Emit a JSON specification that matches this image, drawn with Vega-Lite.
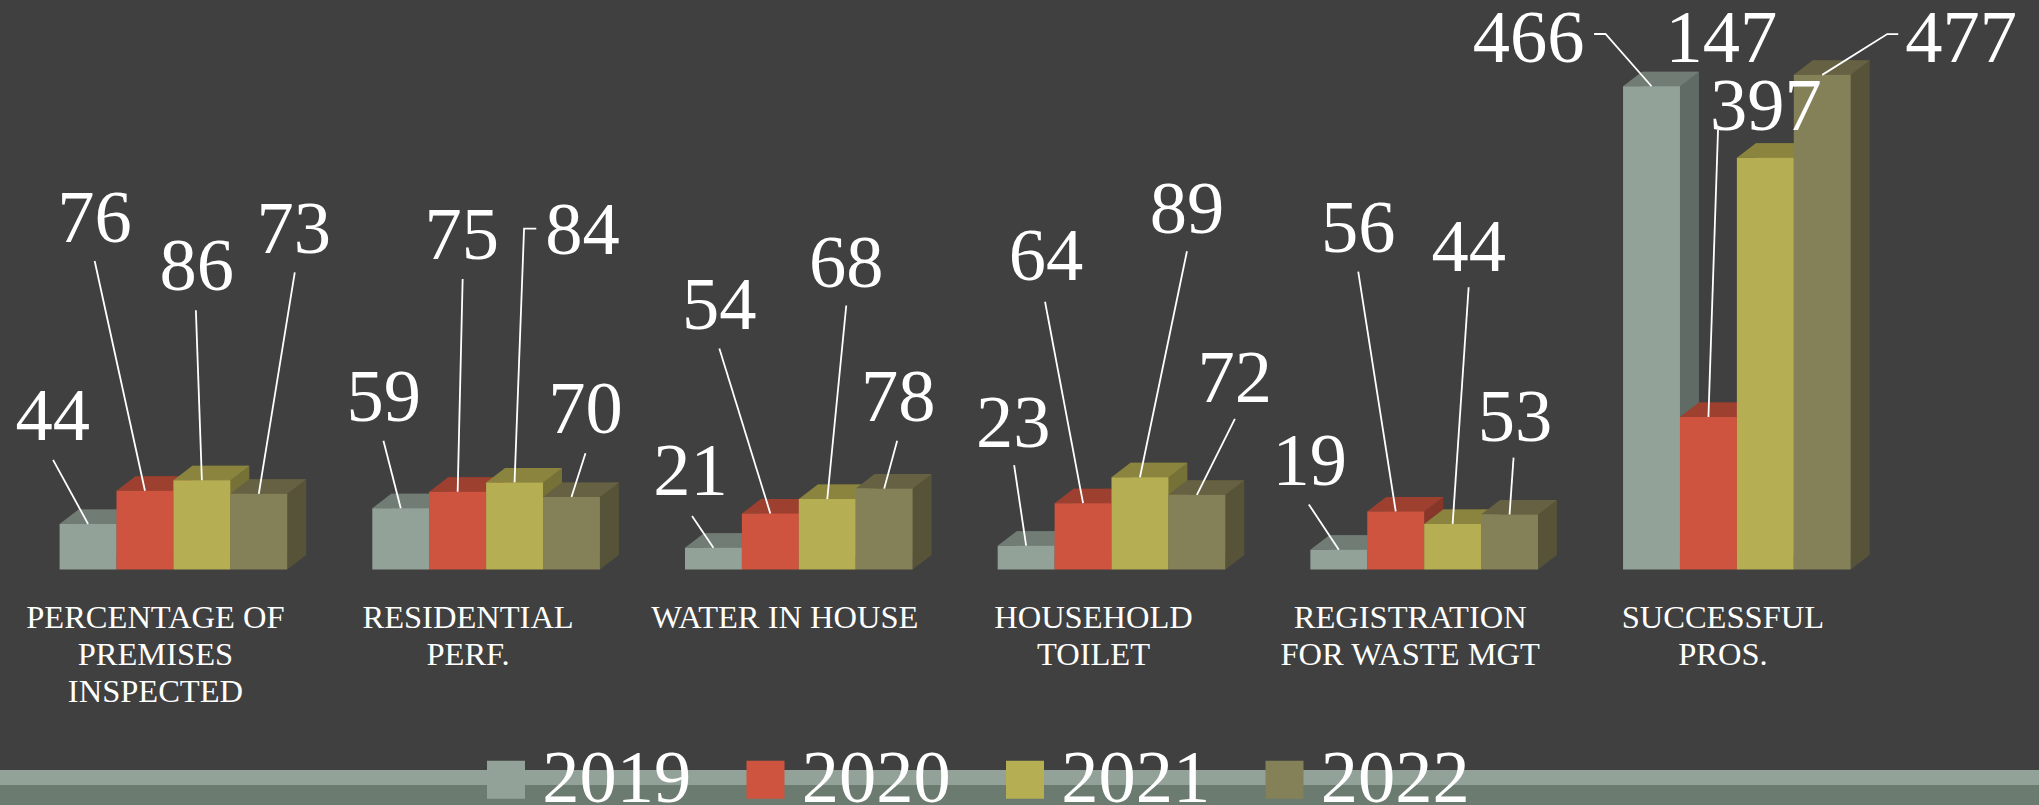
{"$schema":"https://vega.github.io/schema/vega-lite/v6.json","width":2039,"height":805,"padding":0,"autosize":{"type":"none"},"background":"#404040","config":{"view":{"stroke":null},"font":"Liberation Serif","text":{"fontSize":74.5,"color":"#FFFFFF","align":"center","baseline":"alphabetic"},"point":{"size":4,"opacity":1,"strokeWidth":1.8}},
"datasets":{"bars":[
{"category":"PERCENTAGE OF PREMISES INSPECTED","year":2019,"value":44},{"category":"PERCENTAGE OF PREMISES INSPECTED","year":2020,"value":76},{"category":"PERCENTAGE OF PREMISES INSPECTED","year":2021,"value":86},{"category":"PERCENTAGE OF PREMISES INSPECTED","year":2022,"value":73},
{"category":"RESIDENTIAL PERF.","year":2019,"value":59},{"category":"RESIDENTIAL PERF.","year":2020,"value":75},{"category":"RESIDENTIAL PERF.","year":2021,"value":84},{"category":"RESIDENTIAL PERF.","year":2022,"value":70},
{"category":"WATER IN HOUSE","year":2019,"value":21},{"category":"WATER IN HOUSE","year":2020,"value":54},{"category":"WATER IN HOUSE","year":2021,"value":68},{"category":"WATER IN HOUSE","year":2022,"value":78},
{"category":"HOUSEHOLD TOILET","year":2019,"value":23},{"category":"HOUSEHOLD TOILET","year":2020,"value":64},{"category":"HOUSEHOLD TOILET","year":2021,"value":89},{"category":"HOUSEHOLD TOILET","year":2022,"value":72},
{"category":"REGISTRATION FOR WASTE MGT","year":2019,"value":19},{"category":"REGISTRATION FOR WASTE MGT","year":2020,"value":56},{"category":"REGISTRATION FOR WASTE MGT","year":2021,"value":44},{"category":"REGISTRATION FOR WASTE MGT","year":2022,"value":53},
{"category":"SUCCESSFUL PROS.","year":2019,"value":466},{"category":"SUCCESSFUL PROS.","year":2020,"value":147},{"category":"SUCCESSFUL PROS.","year":2021,"value":397},{"category":"SUCCESSFUL PROS.","year":2022,"value":477}
]},
"data":{"name":"bars"},
"resolve":{"scale":{"color":"independent"}},
"layer":[
{"data":{"values":[{"from":-193.3,"to":-207.8}]},"mark":{"type":"rect","color":"#93A299"},"encoding":{"y":{"field":"from","type":"quantitative","axis":null,"scale":{"domain":[-227.1,549.2],"nice":false,"zero":false}},"y2":{"field":"to"}}},
{"data":{"values":[{"from":-207.8,"to":-227.1}]},"mark":{"type":"rect","color":"#6B7B70"},"encoding":{"y":{"field":"from","type":"quantitative","axis":null},"y2":{"field":"to"}}},
{"encoding":{
"x":{"field":"category","type":"nominal","sort":null,"title":null,"scale":{"range":[59.6,1850.7],"paddingInner":0.272,"paddingOuter":0},"axis":{"orient":"bottom","offset":-204,"domain":false,"ticks":false,"grid":false,"labelAngle":0,"labelPadding":0,"labelOffset":-18,"labelFont":"Liberation Serif","labelFontSize":32.5,"labelColor":"#FFFFFF","labelLineHeight":37,"labelLimit":500,"labelOverlap":false,"labelBaseline":"top","encoding":{"labels":{"dx":{"value":{"expr":"datum.value=='WATER IN HOUSE'||datum.value=='REGISTRATION FOR WASTE MGT'||datum.value=='SUCCESSFUL PROS.'?4:0"}}}},"labelExpr":"datum.value=='PERCENTAGE OF PREMISES INSPECTED'?['PERCENTAGE OF','PREMISES','INSPECTED']:datum.value=='RESIDENTIAL PERF.'?['RESIDENTIAL','PERF.']:datum.value=='HOUSEHOLD TOILET'?['HOUSEHOLD','TOILET']:datum.value=='REGISTRATION FOR WASTE MGT'?['REGISTRATION','FOR WASTE MGT']:datum.value=='SUCCESSFUL PROS.'?['SUCCESSFUL','PROS.']:datum.label"}},
"xOffset":{"field":"year","type":"nominal","scale":{"domain":[2019,2020,2021,2022]}},
"y":{"field":"value","type":"quantitative","axis":null}},
"resolve":{"scale":{"color":"independent","xOffset":"independent"}},
"layer":[
{"mark":{"type":"bar","yOffset":-14.5},"encoding":{"xOffset":{"field":"year","type":"nominal","scale":{"domain":[2019,2020,2021,2022],"range":[19,246.6]}},"color":{"field":"year","type":"nominal","legend":null,"scale":{"range":["#5F6B64","#86372A","#767136","#565339"]}}}},
{"mark":{"type":"point","filled":true,"shape":"M28.45,0L28.45,-14.5L47.45,-14.5Z"},"encoding":{"y":{"datum":0,"type":"quantitative"},"color":{"field":"year","type":"nominal","legend":null,"scale":{"range":["#5F6B64","#86372A","#767136","#565339"]}}}},
{"mark":{"type":"point","filled":true,"shape":"M-28.45,0L28.45,0L47.45,-14.5L-9.55,-14.5Z"},"encoding":{"color":{"field":"year","type":"nominal","legend":null,"scale":{"range":["#707C74","#9D402F","#8A843F","#656142"]}}}},
{"mark":{"type":"bar"},"encoding":{"color":{"field":"year","type":"nominal","scale":{"range":["#93A299","#CF543F","#B5AE53","#848058"]},"legend":{"title":null,"orient":"none","legendX":468.75,"legendY":742.25,"direction":"horizontal","columns":4,"padding":0,"symbolType":"square","symbolSize":1444,"symbolStrokeWidth":0,"symbolOpacity":1,"labelFont":"Liberation Serif","labelFontSize":74.5,"labelColor":"#FFFFFF","labelOffset":-1,"labelLimit":400,"columnPadding":36.5,"zindex":1}}}},
{"transform":[{"filter":"datum.year==2019&&datum.value==44"}],"layer":[{"mark":{"type":"point","filled":false,"stroke":"#FFFFFF","shape":"M0,0L-35,-64"}},{"mark":{"type":"text","dx":-35.4,"dy":-83.9},"encoding":{"text":{"field":"value"}}}]},
{"transform":[{"filter":"datum.year==2020&&datum.value==76"}],"layer":[{"mark":{"type":"point","filled":false,"stroke":"#FFFFFF","shape":"M0,0L-50.3,-229.7"}},{"mark":{"type":"text","dx":-50.5,"dy":-249},"encoding":{"text":{"field":"value"}}}]},
{"transform":[{"filter":"datum.year==2021&&datum.value==86"}],"layer":[{"mark":{"type":"point","filled":false,"stroke":"#FFFFFF","shape":"M0,0L-6,-170"}},{"mark":{"type":"text","dx":-5,"dy":-190.3},"encoding":{"text":{"field":"value"}}}]},
{"transform":[{"filter":"datum.year==2022&&datum.value==73"}],"layer":[{"mark":{"type":"point","filled":false,"stroke":"#FFFFFF","shape":"M0,0L36,-221.5"}},{"mark":{"type":"text","dx":35,"dy":-240.8},"encoding":{"text":{"field":"value"}}}]},
{"transform":[{"filter":"datum.year==2019&&datum.value==59"}],"layer":[{"mark":{"type":"point","filled":false,"stroke":"#FFFFFF","shape":"M0,0L-17.3,-67.6"}},{"mark":{"type":"text","dx":-17,"dy":-87.6},"encoding":{"text":{"field":"value"}}}]},
{"transform":[{"filter":"datum.year==2020&&datum.value==75"}],"layer":[{"mark":{"type":"point","filled":false,"stroke":"#FFFFFF","shape":"M0,0L5,-212.7"}},{"mark":{"type":"text","dx":4,"dy":-232.7},"encoding":{"text":{"field":"value"}}}]},
{"transform":[{"filter":"datum.year==2021&&datum.value==84"}],"layer":[{"mark":{"type":"point","filled":false,"stroke":"#FFFFFF","shape":"M0,0L9.5,-253.7L21.7,-253.7"}},{"mark":{"type":"text","dx":68,"dy":-228},"encoding":{"text":{"field":"value"}}}]},
{"transform":[{"filter":"datum.year==2022&&datum.value==70"}],"layer":[{"mark":{"type":"point","filled":false,"stroke":"#FFFFFF","shape":"M0,0L14,-43.6"}},{"mark":{"type":"text","dx":14,"dy":-63.9},"encoding":{"text":{"field":"value"}}}]},
{"transform":[{"filter":"datum.year==2019&&datum.value==21"}],"layer":[{"mark":{"type":"point","filled":false,"stroke":"#FFFFFF","shape":"M0,0L-21.4,-31.7"}},{"mark":{"type":"text","dx":-23,"dy":-53},"encoding":{"text":{"field":"value"}}}]},
{"transform":[{"filter":"datum.year==2020&&datum.value==54"}],"layer":[{"mark":{"type":"point","filled":false,"stroke":"#FFFFFF","shape":"M0,0L-51,-165"}},{"mark":{"type":"text","dx":-51,"dy":-184.5},"encoding":{"text":{"field":"value"}}}]},
{"transform":[{"filter":"datum.year==2021&&datum.value==68"}],"layer":[{"mark":{"type":"point","filled":false,"stroke":"#FFFFFF","shape":"M0,0L19,-193.5"}},{"mark":{"type":"text","dx":19,"dy":-212},"encoding":{"text":{"field":"value"}}}]},
{"transform":[{"filter":"datum.year==2022&&datum.value==78"}],"layer":[{"mark":{"type":"point","filled":false,"stroke":"#FFFFFF","shape":"M0,0L13,-47.9"}},{"mark":{"type":"text","dx":14,"dy":-68},"encoding":{"text":{"field":"value"}}}]},
{"transform":[{"filter":"datum.year==2019&&datum.value==23"}],"layer":[{"mark":{"type":"point","filled":false,"stroke":"#FFFFFF","shape":"M0,0L-12,-80.6"}},{"mark":{"type":"text","dx":-13,"dy":-98.6},"encoding":{"text":{"field":"value"}}}]},
{"transform":[{"filter":"datum.year==2020&&datum.value==64"}],"layer":[{"mark":{"type":"point","filled":false,"stroke":"#FFFFFF","shape":"M0,0L-38,-201.4"}},{"mark":{"type":"text","dx":-37,"dy":-223.5},"encoding":{"text":{"field":"value"}}}]},
{"transform":[{"filter":"datum.year==2021&&datum.value==89"}],"layer":[{"mark":{"type":"point","filled":false,"stroke":"#FFFFFF","shape":"M0,0L47,-226"}},{"mark":{"type":"text","dx":47,"dy":-244.5},"encoding":{"text":{"field":"value"}}}]},
{"transform":[{"filter":"datum.year==2022&&datum.value==72"}],"layer":[{"mark":{"type":"point","filled":false,"stroke":"#FFFFFF","shape":"M0,0L38,-76"}},{"mark":{"type":"text","dx":38,"dy":-93.1},"encoding":{"text":{"field":"value"}}}]},
{"transform":[{"filter":"datum.year==2019&&datum.value==19"}],"layer":[{"mark":{"type":"point","filled":false,"stroke":"#FFFFFF","shape":"M0,0L-30,-45.4"}},{"mark":{"type":"text","dx":-29,"dy":-64.8},"encoding":{"text":{"field":"value"}}}]},
{"transform":[{"filter":"datum.year==2020&&datum.value==56"}],"layer":[{"mark":{"type":"point","filled":false,"stroke":"#FFFFFF","shape":"M0,0L-37.5,-239.7"}},{"mark":{"type":"text","dx":-37.5,"dy":-259.4},"encoding":{"text":{"field":"value"}}}]},
{"transform":[{"filter":"datum.year==2021&&datum.value==44"}],"layer":[{"mark":{"type":"point","filled":false,"stroke":"#FFFFFF","shape":"M0,0L16,-236.6"}},{"mark":{"type":"text","dx":16,"dy":-253},"encoding":{"text":{"field":"value"}}}]},
{"transform":[{"filter":"datum.year==2022&&datum.value==53"}],"layer":[{"mark":{"type":"point","filled":false,"stroke":"#FFFFFF","shape":"M0,0L4,-56.9"}},{"mark":{"type":"text","dx":5.5,"dy":-73.8},"encoding":{"text":{"field":"value"}}}]},
{"transform":[{"filter":"datum.year==2019&&datum.value==466"}],"layer":[{"mark":{"type":"point","filled":false,"stroke":"#FFFFFF","shape":"M0,0L-46,-52.3L-57.4,-52.3"}},{"mark":{"type":"text","dx":-123,"dy":-24.6},"encoding":{"text":{"field":"value"}}}]},
{"transform":[{"filter":"datum.year==2020&&datum.value==147"}],"layer":[{"mark":{"type":"point","filled":false,"stroke":"#FFFFFF","shape":"M0,0L9.6,-287"}},{"mark":{"type":"text","dx":13,"dy":-355.3},"encoding":{"text":{"field":"value"}}}]},
{"transform":[{"filter":"datum.year==2021&&datum.value==397"}],"mark":{"type":"text","dx":0.5,"dy":-27.8},"encoding":{"text":{"field":"value"}}},
{"transform":[{"filter":"datum.year==2022&&datum.value==477"}],"layer":[{"mark":{"type":"point","filled":false,"stroke":"#FFFFFF","shape":"M0,0L65,-40.8L76,-40.8"}},{"mark":{"type":"text","dx":139,"dy":-13.1},"encoding":{"text":{"field":"value"}}}]}
]}
]}
